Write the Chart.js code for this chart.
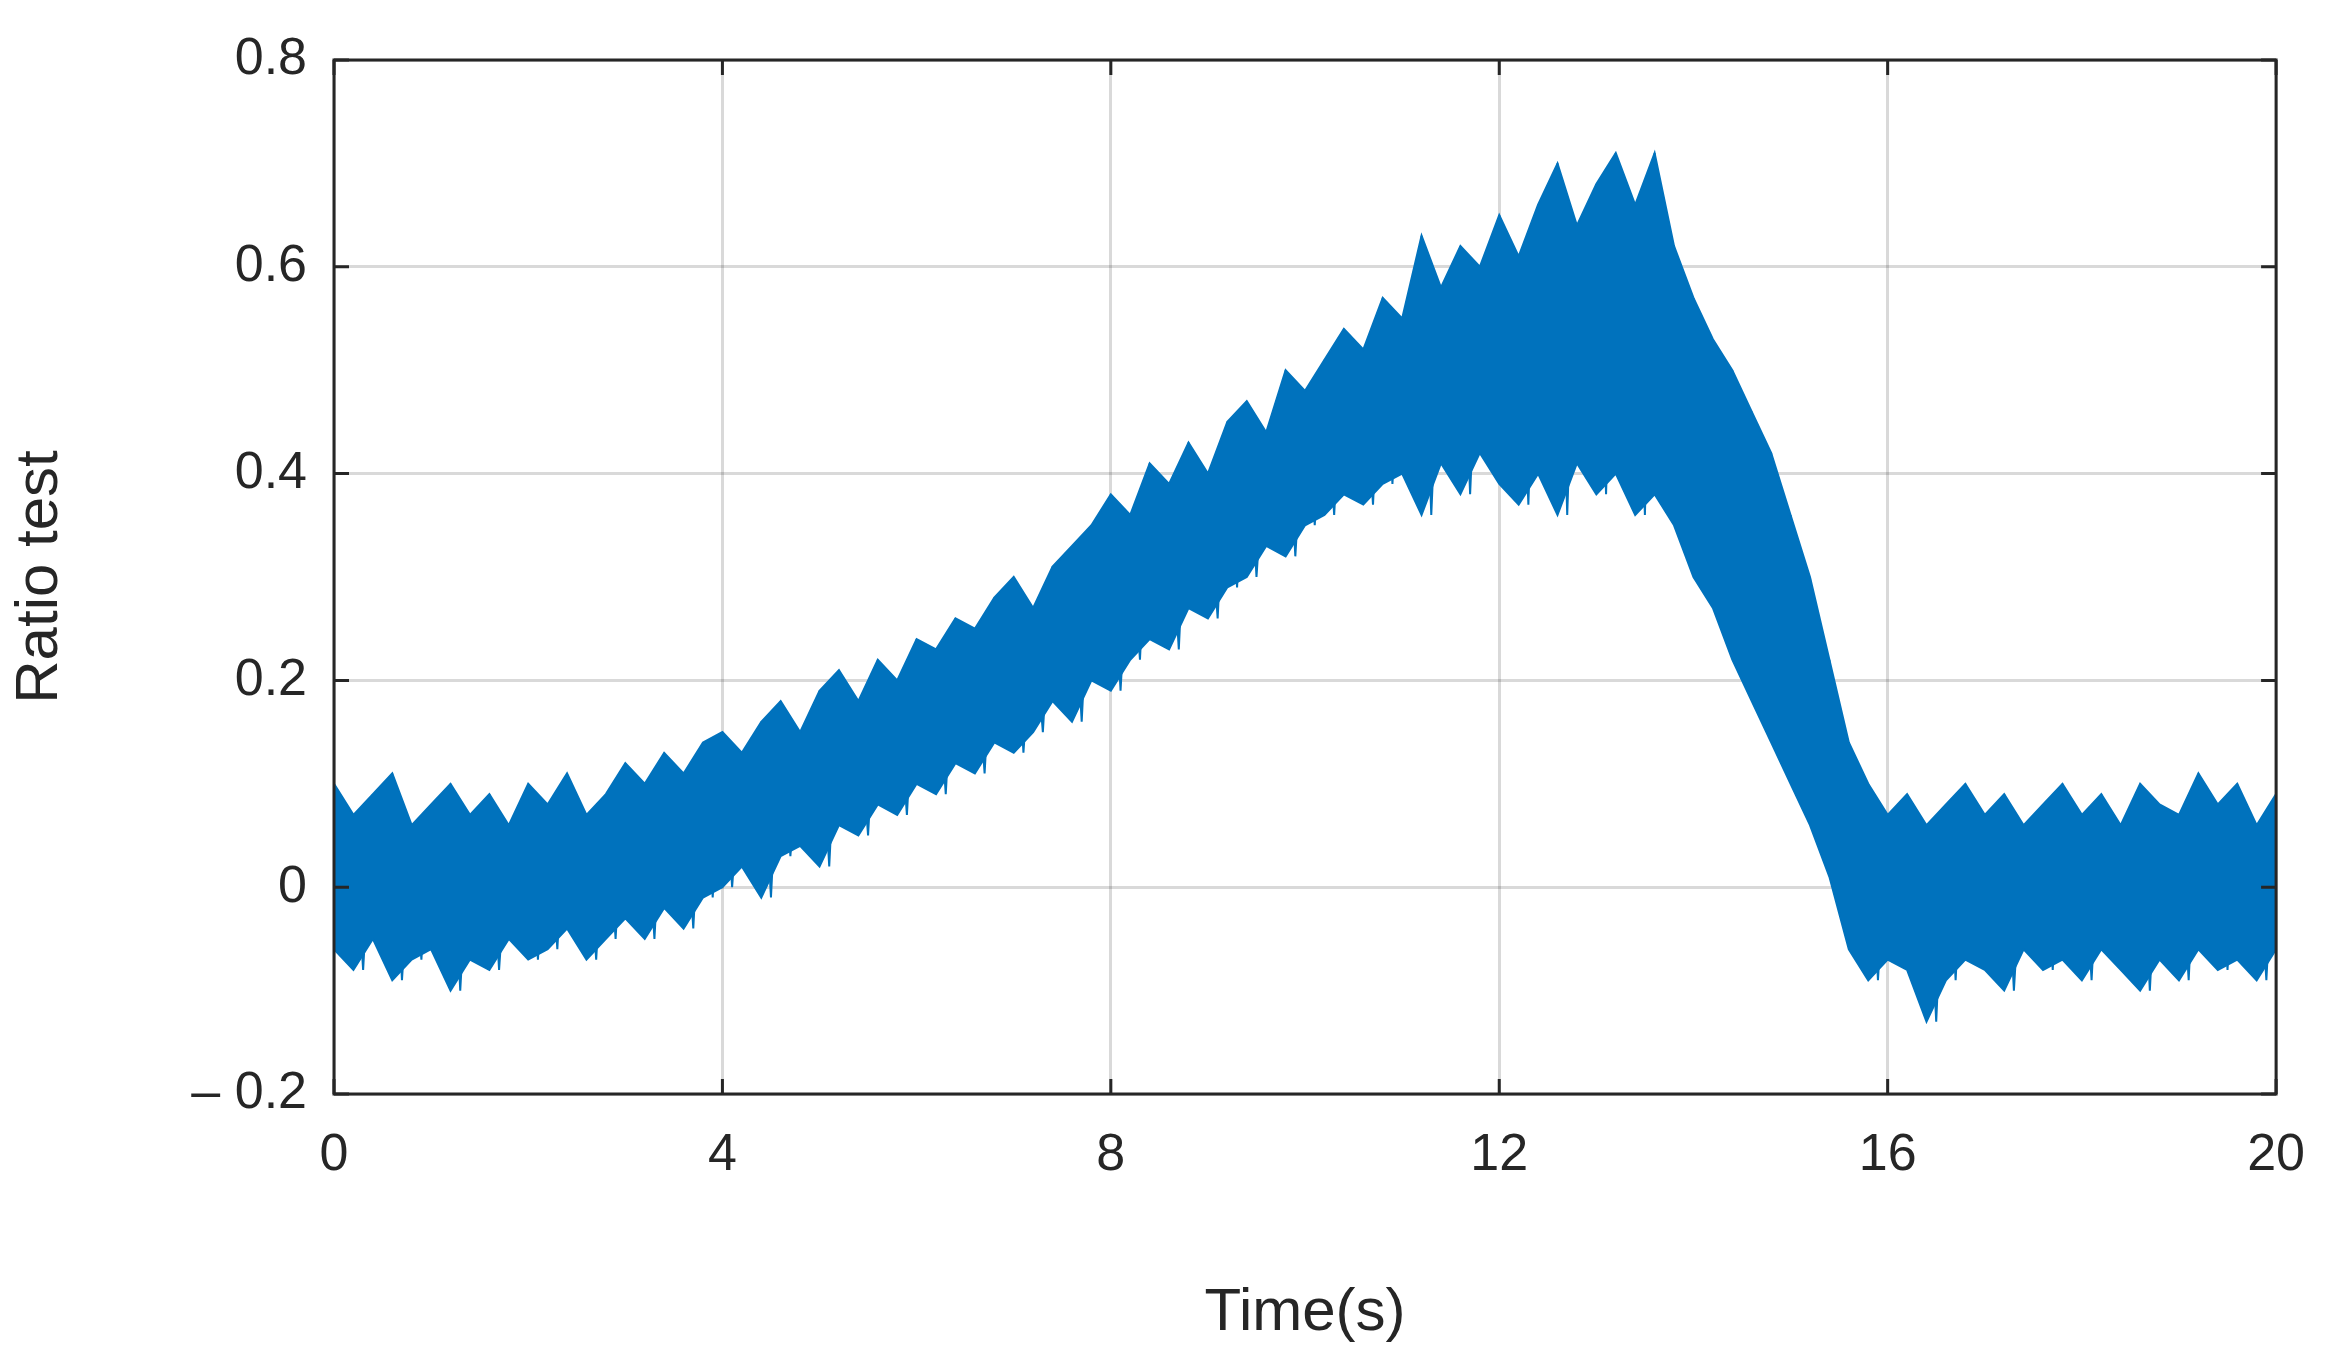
<!DOCTYPE html>
<html><head><meta charset="utf-8">
<script src="https://cdn.jsdelivr.net/npm/chart.js@4"></script>
<style>html,body{margin:0;padding:0;background:#fff}#c{display:block}</style>
</head><body>
<canvas id="c" width="2335" height="1353"></canvas>
<script>
const timeStep = 0.2;
const upperEnvelope = [0.10,0.07,0.09,0.11,0.06,0.08,0.10,0.07,0.09,0.06,0.10,
0.08,0.11,0.07,0.09,0.12,0.10,0.13,0.11,0.14,0.15,
0.13,0.16,0.18,0.15,0.19,0.21,0.18,0.22,0.20,0.24,
0.23,0.26,0.25,0.28,0.30,0.27,0.31,0.33,0.35,0.38,
0.36,0.41,0.39,0.43,0.40,0.45,0.47,0.44,0.50,0.48,
0.51,0.54,0.52,0.57,0.55,0.63,0.58,0.62,0.60,0.65,
0.61,0.66,0.70,0.64,0.68,0.71,0.66,0.71,0.62,0.57,
0.53,0.50,0.46,0.42,0.36,0.30,0.22,0.14,0.10,0.07,
0.09,0.06,0.08,0.10,0.07,0.09,0.06,0.08,0.10,0.07,
0.09,0.06,0.10,0.08,0.07,0.11,0.08,0.10,0.06,0.09];
const lowerEnvelope = [-0.06,-0.08,-0.05,-0.09,-0.07,-0.06,-0.10,-0.07,-0.08,-0.05,-0.07,
-0.06,-0.04,-0.07,-0.05,-0.03,-0.05,-0.02,-0.04,-0.01,0.00,
0.02,-0.01,0.03,0.04,0.02,0.06,0.05,0.08,0.07,0.10,
0.09,0.12,0.11,0.14,0.13,0.15,0.18,0.16,0.20,0.19,
0.22,0.24,0.23,0.27,0.26,0.29,0.30,0.33,0.32,0.35,
0.36,0.38,0.37,0.39,0.40,0.36,0.41,0.38,0.42,0.39,
0.37,0.40,0.36,0.41,0.38,0.40,0.36,0.38,0.35,0.30,
0.27,0.22,0.18,0.14,0.10,0.06,0.01,-0.06,-0.09,-0.07,
-0.08,-0.13,-0.09,-0.07,-0.08,-0.10,-0.06,-0.08,-0.07,-0.09,
-0.06,-0.08,-0.10,-0.07,-0.09,-0.06,-0.08,-0.07,-0.09,-0.06];
const xTicks = [0,4,8,12,16,20];
const yTicks = [-0.2,0,0.2,0.4,0.6,0.8];

const hiPts = upperEnvelope.map((v,i)=>({x:+(i*timeStep).toFixed(2),y:v}));
const loPts = lowerEnvelope.map((v,i)=>({x:+(i*timeStep).toFixed(2),y:v}));
const zig = [];
upperEnvelope.forEach((v,i)=>{ zig.push({x:i*timeStep,y:v}); if(i<upperEnvelope.length-1) zig.push({x:(i+0.5)*timeStep,y:lowerEnvelope[i]}); });
const C='#0072BD';
const font='"Liberation Sans", Arial, sans-serif';

const frame={id:'frame',afterDraw(ch){const {ctx,chartArea:a,scales}=ch;ctx.save();ctx.strokeStyle='#262626';ctx.lineWidth=3;
ctx.strokeRect(a.left,a.top,a.right-a.left,a.bottom-a.top);
const L=15;
xTicks.forEach(t=>{const x=scales.x.getPixelForValue(t);ctx.beginPath();ctx.moveTo(x,a.bottom);ctx.lineTo(x,a.bottom-L);ctx.moveTo(x,a.top);ctx.lineTo(x,a.top+L);ctx.stroke();});
yTicks.forEach(t=>{const y=scales.y.getPixelForValue(t);ctx.beginPath();ctx.moveTo(a.left,y);ctx.lineTo(a.left+L,y);ctx.moveTo(a.right,y);ctx.lineTo(a.right-L,y);ctx.stroke();});
ctx.restore();}};

new Chart(document.getElementById('c'),{
type:'line',
data:{datasets:[
{data:hiPts,borderColor:C,borderWidth:2,pointRadius:0,tension:0,fill:false},
{data:loPts,borderColor:C,backgroundColor:C,borderWidth:2,pointRadius:0,tension:0,fill:'-1'},
{data:zig,borderColor:C,borderWidth:2,pointRadius:0,tension:0,fill:false}
]},
options:{responsive:false,animation:false,devicePixelRatio:1,
plugins:{legend:{display:false},tooltip:{enabled:false}},
layout:{padding:{top:60,right:54,left:0,bottom:0}},
scales:{
x:{type:'linear',min:0,max:20,afterBuildTicks:s=>{s.ticks=xTicks.map(v=>({value:v}));},
afterFit:s=>{s.height=259;},
grid:{color:'rgba(0,0,0,0.15)',lineWidth:3,drawTicks:false},border:{display:false},
ticks:{padding:30,color:'#262626',font:{family:font,size:52}},
title:{display:true,text:'Time(s)',color:'#262626',font:{family:font,size:60},padding:{top:25}}},
y:{min:-0.2,max:0.8,afterBuildTicks:s=>{s.ticks=yTicks.map(v=>({value:v}));},
afterFit:s=>{s.width=334;},
grid:{color:'rgba(0,0,0,0.15)',lineWidth:3,drawTicks:false},border:{display:false},
ticks:{padding:27,color:'#262626',font:{family:font,size:52},
callback:v=>{const r=Math.round(v*10)/10;return r<0?'– '+Math.abs(r):String(r);}},
title:{display:true,text:'Ratio test',color:'#262626',font:{family:font,size:60},padding:{bottom:20}}}
}},
plugins:[frame]});
</script>
</body></html>
